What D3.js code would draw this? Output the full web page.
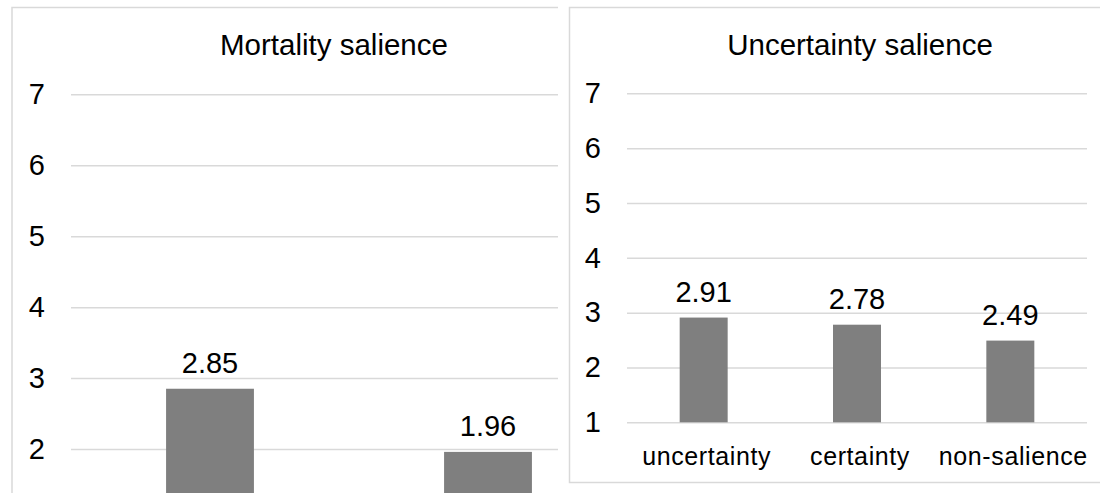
<!DOCTYPE html>
<html><head><meta charset="utf-8">
<script src="https://cdn.jsdelivr.net/npm/d3@7"></script>
<style>
html,body{margin:0;padding:0;background:#fff;overflow:hidden}
svg{display:block;font-family:"Liberation Sans",Arial,sans-serif}
</style></head>
<body>
<svg id="chart" width="1100" height="493"></svg>
<script>
// ---- data ----
const leftTitle = "Mortality salience";
const leftCategories = ["mortality", "non-salience"];
const leftValues = [2.85, 1.96];
const leftTicks = [2, 3, 4, 5, 6, 7];

const rightTitle = "Uncertainty salience";
const rightCategories = ["uncertainty", "certainty", "non-salience"];
const rightValues = [2.91, 2.78, 2.49];
const rightTicks = [1, 2, 3, 4, 5, 6, 7];

const svg = d3.select("#chart");
const grid = "#d9d9d9", barColor = "#7f7f7f", ink = "#000";

function panel(g, opt) {
  const y = d3.scaleLinear().domain([1, 7]).range([opt.y1, opt.y7]);
  const x = d3.scaleBand().domain(opt.cats).range([opt.x0, opt.x1]).padding(0);
  const bw = x.bandwidth() * opt.barFrac;

  const yAxis = d3.axisLeft(y).tickValues(opt.ticks).tickSize(-(opt.gridEnd - opt.x0)).tickPadding(26).tickFormat(d3.format("d"));
  const ag = g.append("g").attr("transform", `translate(${opt.x0},0)`).call(yAxis);
  ag.select(".domain").remove();
  ag.selectAll(".tick line").attr("stroke", grid).attr("stroke-width", 1.5);
  ag.selectAll(".tick text").attr("fill", ink).style("font-size", "29px").attr("font-family", "Liberation Sans, Arial, sans-serif");

  g.selectAll("rect.bar").data(opt.vals).join("rect").attr("class", "bar")
    .attr("x", (d, i) => x(opt.cats[i]) + (x.bandwidth() - bw) / 2)
    .attr("width", bw)
    .attr("y", d => y(d))
    .attr("height", d => y(1) - y(d))
    .attr("fill", barColor);

  g.selectAll("text.lbl").data(opt.vals).join("text").attr("class", "lbl")
    .attr("x", (d, i) => x(opt.cats[i]) + x.bandwidth() / 2)
    .attr("y", d => y(d) - 16)
    .attr("text-anchor", "middle").attr("fill", ink).style("font-size", "29px")
    .text(d => d.toFixed(2));

  g.append("text").attr("x", opt.titleX).attr("y", 55).attr("text-anchor", "middle")
    .attr("fill", ink).style("font-size", "29.5px").text(opt.title);

  if (opt.showCats) {
    g.selectAll("text.cat").data(opt.cats).join("text").attr("class", "cat")
      .attr("x", d => x(d) + x.bandwidth() / 2 + 3)
      .attr("y", 465).attr("text-anchor", "middle").attr("fill", ink)
      .style("font-size", "25px").style("letter-spacing", "0.6px").text(d => d);
  }
}

// left panel
const L = svg.append("g");
L.append("path").attr("d", "M12,493 L12,7.5 L560,7.5").attr("fill", "none").attr("stroke", grid).attr("stroke-width", 1.5);
panel(L, {cats: leftCategories, vals: leftValues, ticks: leftTicks, title: leftTitle,
  x0: 71, x1: 627, gridEnd: 627, y1: 520, y7: 94.3, barFrac: 0.316, titleX: 334, showCats: false});

// right panel (overlaps the left one)
const R = svg.append("g");
R.append("rect").attr("x", 558).attr("y", 0).attr("width", 542).attr("height", 493).attr("fill", "#fff");
R.append("path").attr("d", "M1100,7.5 L569.5,7.5 L569.5,482.5 L1100,482.5").attr("fill", "none").attr("stroke", grid).attr("stroke-width", 1.5);
panel(R, {cats: rightCategories, vals: rightValues, ticks: rightTicks, title: rightTitle,
  x0: 627, x1: 1087, gridEnd: 1087, y1: 422.3, y7: 93.3, barFrac: 0.313, titleX: 860, showCats: true});
</script>
</body></html>
